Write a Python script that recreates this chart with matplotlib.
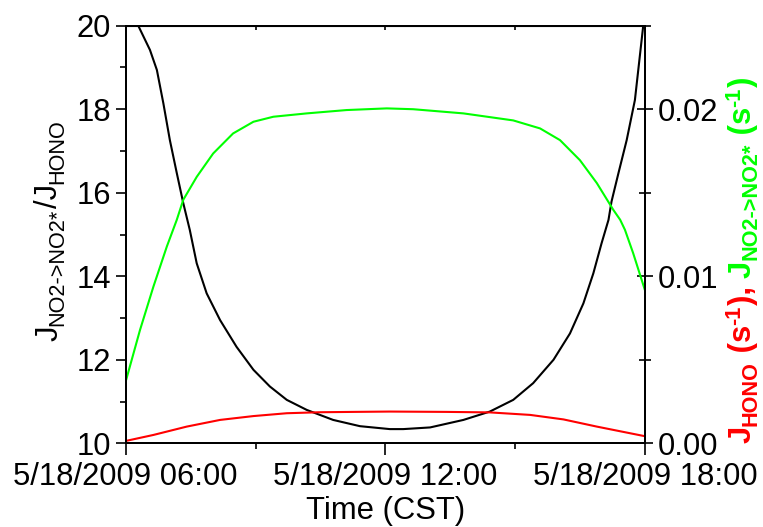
import pandas as pd
import matplotlib
matplotlib.use("Agg")
import matplotlib.pyplot as plt
import matplotlib.dates as mdates
from matplotlib.ticker import FuncFormatter, MultipleLocator

plt.rcParams['font.family'] = ['Liberation Sans', 'DejaVu Sans']

day = pd.Timestamp("2009-05-18")

# J(NO2->NO2*) / J(HONO), left axis
ratio_hours = [6.0, 6.29, 6.56, 6.72, 6.87, 7.02, 7.18, 7.33, 7.48, 7.64, 7.87, 8.18,
               8.56, 8.95, 9.33, 9.72, 10.18, 10.79, 11.41, 12.10, 12.41, 13.03, 13.80,
               14.41, 14.95, 15.41, 15.88, 16.26, 16.57, 16.80, 16.99, 17.15, 17.22,
               17.38, 17.57, 17.76, 17.95, 18.0]
ratio = [20.7, 20.0, 19.42, 18.94, 18.14, 17.26, 16.47, 15.75, 15.11, 14.31, 13.59, 12.95,
         12.31, 11.76, 11.36, 11.04, 10.80, 10.56, 10.41, 10.34, 10.34, 10.38, 10.56,
         10.76, 11.04, 11.44, 12.0, 12.63, 13.35, 14.07, 14.79, 15.35, 15.79,
         16.47, 17.26, 18.22, 19.98, 20.2]

# J(NO2->NO2*) in s^-1, right axis
jno2_hours = [6.0, 6.33, 6.64, 6.95, 7.18, 7.33, 7.64, 8.02, 8.48, 8.95, 9.41, 10.18,
              11.10, 12.03, 12.64, 13.80, 14.95, 15.57, 16.03, 16.49, 16.88, 17.26,
              17.42, 17.53, 17.72, 18.0]
jno2 = [0.0037, 0.00678, 0.00938, 0.01178, 0.01338, 0.01458, 0.01595, 0.01735, 0.01855,
        0.01925, 0.01955, 0.01975, 0.01995, 0.02005, 0.0200, 0.01975, 0.01933, 0.01885,
        0.01815, 0.01695, 0.01558, 0.01398, 0.01338, 0.01278, 0.01138, 0.0091]

# J(HONO) in s^-1, right axis
jhono_hours = [6.0, 6.64, 7.41, 8.18, 8.95, 9.72, 10.49, 11.26, 12.10, 13.41, 14.41,
               15.34, 16.11, 16.88, 18.0]
jhono = [0.00014, 0.0005, 0.001, 0.0014, 0.00163, 0.0018, 0.00186, 0.00188, 0.0019,
         0.00188, 0.00185, 0.0017, 0.00143, 0.001, 0.00042]


def to_time(hours):
    return [day + pd.Timedelta(hours=h) for h in hours]


W, H = 763, 527
fig = plt.figure(figsize=(W / 100, H / 100), dpi=100)
ax = fig.add_axes([125.7 / W, 1 - 443.3 / H, 519.6 / W, 417.6 / H])
ax2 = ax.twinx()

ax.plot(to_time(ratio_hours), ratio, color='black', lw=1.5)
ax2.plot(to_time(jno2_hours), jno2, color='#00ff00', lw=1.5)
ax2.plot(to_time(jhono_hours), jhono, color='#ff0000', lw=1.5)

fs = 22.3
ax.set_xlim(day + pd.Timedelta(hours=6), day + pd.Timedelta(hours=18))
ax.set_ylim(10, 20)
ax2.set_ylim(0, 0.025)

ax.xaxis.set_major_locator(mdates.HourLocator(byhour=[6, 12, 18]))
ax.xaxis.set_minor_locator(mdates.HourLocator(byhour=[9, 15]))
ax.xaxis.set_major_formatter(FuncFormatter(
    lambda v, p: (lambda d: f"{d.month}/{d.day}/{d.year} {d:%H:%M}")(mdates.num2date(v))))
ax.yaxis.set_major_locator(MultipleLocator(2))
ax.yaxis.set_minor_locator(MultipleLocator(1))
ax2.yaxis.set_major_locator(MultipleLocator(0.01))
ax2.yaxis.set_minor_locator(MultipleLocator(0.005))
ax2.yaxis.set_major_formatter(FuncFormatter(lambda v, p: f"{v:.2f}"))

ax.tick_params(which='both', direction='out', labelsize=fs, width=1.2, pad=3)
ax.tick_params(which='major', length=7.5)
ax.tick_params(which='minor', length=4)
ax.tick_params(axis='x', which='major', length=8.5, pad=5)
ax2.tick_params(which='both', direction='inout', labelsize=fs, width=1.2, pad=3)
ax2.tick_params(which='major', length=12)
ax2.tick_params(which='minor', length=9)

top = ax.secondary_xaxis('top')
top.xaxis.set_major_locator(mdates.HourLocator(byhour=[9, 12, 15]))
top.tick_params(direction='in', length=3, width=1.2, labeltop=False)

for a in (ax, ax2):
    for s in a.spines.values():
        s.set_linewidth(1.4)

ax.set_xlabel("Time (CST)", fontsize=fs, labelpad=3)

renderer = fig.canvas.get_renderer()


def vertical_label(x_base, y_start, pieces, color, weight='normal'):
    # lay text pieces upward along a rotated baseline, shifting sub/superscripts
    y = y_start
    for txt, size, shift in pieces:
        t = fig.text((x_base + shift) / W, 1 - y / H, txt, color=color, fontsize=size,
                     fontweight=weight, rotation=90, rotation_mode='anchor',
                     ha='left', va='baseline')
        y -= t.get_window_extent(renderer).height
    return y


sub = fs * 0.7
vertical_label(57, 341, [("J", fs, 0), ("NO2->NO2*", sub, 6), ("/J", fs, 0),
                         ("HONO", sub, 6)], 'black')

y_end = vertical_label(751, 443, [("J", fs, 0), ("HONO", sub, 6), (" (s", fs, 0),
                                  ("-1", sub, -11), ("), ", fs, 0)], '#ff0000', 'bold')
vertical_label(751, y_end, [("J", fs, 0), ("NO2->NO2*", sub, 6), (" (s", fs, 0),
                            ("-1", sub, -11), (")", fs, 0)], '#00ff00', 'bold')

fig.savefig("out.png", dpi=100)
